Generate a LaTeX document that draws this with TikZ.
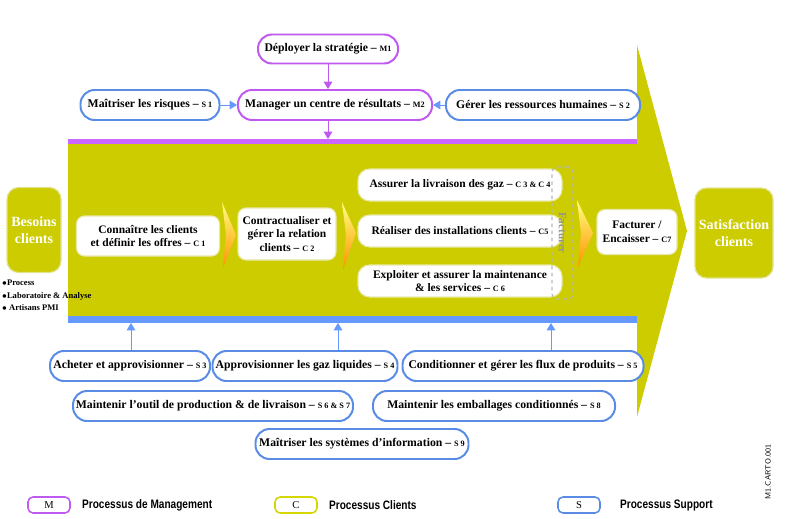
\documentclass[tikz,border=0pt]{standalone}
\usepackage{fontspec}
\setmainfont{Liberation Serif}
\newfontfamily\legendfont[FakeStretch=0.82]{Liberation Sans}
\usepackage{tikz}
\usetikzlibrary{arrows.meta, positioning, calc}
\definecolor{cyellow}{RGB}{204,204,0}
\definecolor{yedge}{RGB}{226,226,140}
\definecolor{mpurple}{RGB}{190,90,240}
\definecolor{mline}{RGB}{204,102,255}
\definecolor{sblue}{RGB}{90,140,230}
\definecolor{sline}{RGB}{102,153,255}
\definecolor{cedge}{RGB}{232,232,170}
\definecolor{factgray}{RGB}{150,150,140}
\newcommand{\pcode}[1]{{\fontsize{7}{8}\selectfont #1}}
\tikzset{
  wd/.style={minimum width=#1*0.3mm},
  ht/.style={minimum height=#1*0.3mm},
  mproc/.style={draw=mpurple, line width=1.7pt, fill=white, rounded corners=4.2mm, inner sep=1pt, align=center, ht=29, font=\bfseries\fontsize{10}{11}\selectfont},
  sproc/.style={mproc, draw=sblue},
  cproc/.style={draw=cedge, line width=1pt, fill=white, rounded corners=2.4mm, inner sep=1pt, align=center, font=\bfseries\fontsize{9.8}{11.5}\selectfont},
  goal/.style={draw=yedge, line width=1pt, fill=cyellow, rounded corners=3.5mm, align=center, text=white, font=\bfseries\fontsize{12}{14}\selectfont},
  legbox/.style={line width=1.3pt, fill=white, rounded corners=1.5mm, wd=42, ht=16, inner sep=0pt, font=\fontsize{9}{10}\selectfont},
  legtext/.style={anchor=west, font=\legendfont\bfseries\fontsize{10.5}{12}\selectfont},
  marrow/.style={-{Triangle[length=2.2mm, width=2.6mm]}, mpurple, line width=0.8pt},
  sarrow/.style={-{Triangle[length=2.2mm, width=2.6mm]}, sline, line width=0.8pt},
  chev/.style={top color=yellow!50!white, bottom color=orange!85!yellow}
}
\begin{document}
\begin{tikzpicture}[x=0.3mm, y=-0.3mm]
  \useasboundingbox (0,0) rectangle (792,519);
  % big arrow of the client processes
  \fill[cyellow] (68,143) -- (637,143) -- (637,45) -- (687,231) -- (637,417) -- (637,316) -- (68,316) -- cycle;
  \fill[mline] (68,139) rectangle (637,144);
  \fill[sline] (68,316) rectangle (637,323);
  \coordinate (pline) at (328,139);
  \coordinate (b3) at (131,323);
  \coordinate (b4) at (338,323);
  \coordinate (b5) at (551,323);

  % management
  \node[mproc, wd=140] (m1) at (328,49) {Déployer la stratégie – \pcode{M1}};
  \node[mproc, wd=194, ht=30] (m2) at (335,105) {Manager un centre de résultats – \pcode{M2}};
  \node[sproc, wd=139, ht=30] (s1) at (150,105) {Maîtriser les risques – \pcode{S 1}};
  \node[sproc, wd=194, ht=30] (s2) at (543,105) {Gérer les ressources humaines – \pcode{S 2}};
  \draw[marrow] (m1.south) -- (m1.south |- m2.north);
  \draw[marrow] (m2.south -| pline) -- (pline);
  \draw[sarrow] (s1) -- (m2);
  \draw[sarrow] (s2) -- (m2);

  % clients
  \node[goal, wd=54, ht=85] (besoins) at (34,230) {Besoins\\clients};
  \node[anchor=north west, align=left, inner sep=0pt, font=\bfseries\fontsize{7.3}{10.5}\selectfont] (publics) at (2,280) {$\bullet$Process\\$\bullet$Laboratoire \& Analyse\\$\bullet$ Artisans PMI};
  \node[cproc, wd=143, ht=40] (c1) at (148,236) {Connaître les clients\\et définir les offres – \pcode{C 1}};
  \node[cproc, wd=98, ht=52] (c2) at (287,234) {Contractualiser et\\gérer la relation\\clients – \pcode{C 2}};
  \node[cproc, wd=204, ht=32, rounded corners=3.5mm] (c34) at (460,185) {Assurer la livraison des gaz – \pcode{C 3 \& C 4}};
  \node[cproc, wd=204, ht=32, rounded corners=3.5mm] (c5) at (460,231) {Réaliser des installations clients – \pcode{C5}};
  \node[cproc, wd=204, ht=32, rounded corners=3.5mm] (c6) at (460,281) {Exploiter et assurer la maintenance\\\& les services – \pcode{C 6}};
  \node[draw=gray!55, dashed, line width=1pt, rounded corners=1.5mm, wd=21, ht=132, inner sep=0pt] (fact) at (562.5,233) {};
  \node[rotate=-90, text=factgray, font=\bfseries\fontsize{9.5}{10}\selectfont] (factlabel) at (fact.center) {Facturer};
  \node[cproc, wd=80, ht=45] (c7) at (637,232) {Facturer /\\Encaisser – \pcode{C7}};
  \node[goal, wd=77, ht=90] (satisf) at (734,233) {Satisfaction\\clients};
  \shade[chev] (222,202) -- (236,235) -- (223,268) -- (226,235) -- cycle;
  \shade[chev] (342,202) -- (356,233) -- (343,270) -- (346,235) -- cycle;
  \shade[chev] (577,200) -- (593,233) -- (578,267) -- (581,233) -- cycle;

  % support
  \node[sproc, wd=160, ht=30] (s3) at (130,366) {Acheter et approvisionner – \pcode{S 3}};
  \node[sproc, wd=185, ht=30] (s4) at (305,366) {Approvisionner les gaz liquides – \pcode{S 4}};
  \node[sproc, wd=241, ht=30] (s5) at (523,366) {Conditionner et gérer les flux de produits – \pcode{S 5}};
  \node[sproc, wd=280, ht=30] (s67) at (213,406) {Maintenir l’outil de production \& de livraison – \pcode{S 6 \& S 7}};
  \node[sproc, wd=242, ht=30] (s8) at (494,406) {Maintenir les emballages conditionnés – \pcode{S 8}};
  \node[sproc, wd=213, ht=30] (s9) at (362,444) {Maîtriser les systèmes d’information – \pcode{S 9}};
  \draw[sarrow] (s3.north -| b3) -- (b3);
  \draw[sarrow] (s4.north -| b4) -- (b4);
  \draw[sarrow] (s5.north -| b5) -- (b5);

  % legend
  \node[legbox, draw=mpurple] (legm) at (49,505) {M};
  \node[legtext] at (78,505) {Processus de Management};
  \node[legbox, draw=cyellow!80!yellow] (legc) at (296,505) {C};
  \node[legtext] at (325,505) {Processus Clients};
  \node[legbox, draw=sblue] (legs) at (579,505) {S};
  \node[legtext] at (616,505) {Processus Support};
  \node[rotate=90, font=\sffamily\fontsize{6.5}{8}\selectfont] (ref) at (768,472) {M1.CARTO.001};
\end{tikzpicture}
\end{document}
